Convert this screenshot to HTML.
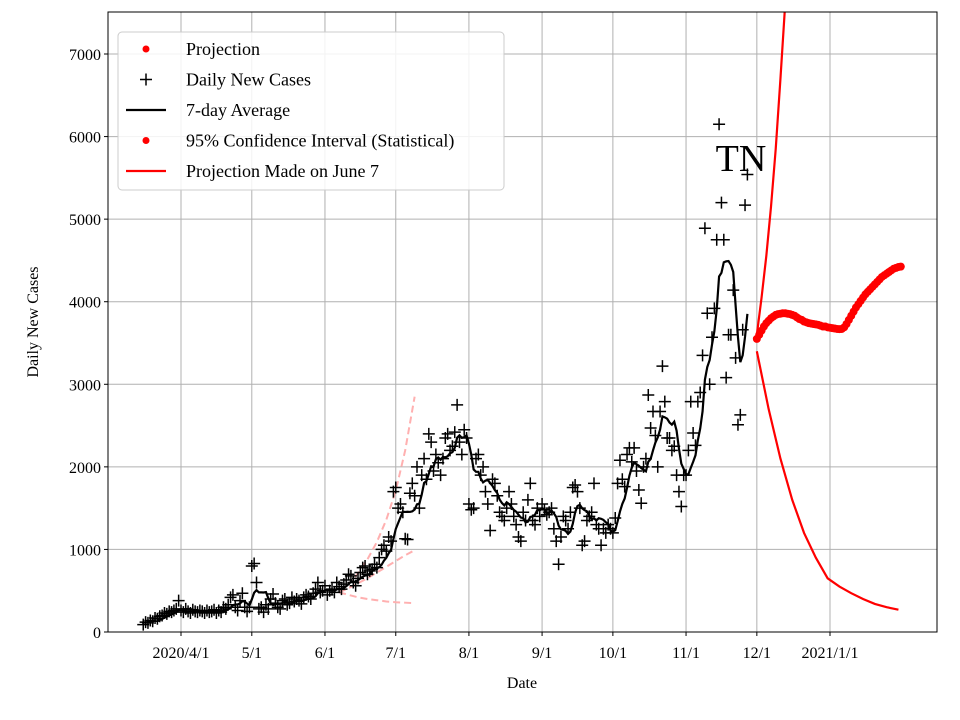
<!DOCTYPE html>
<html><head><meta charset="utf-8"><style>
html,body{margin:0;padding:0;background:#fff;}
svg{display:block;font-family:"Liberation Serif",serif;}
</style></head><body>
<svg id="chart" width="960" height="720" xmlns="http://www.w3.org/2000/svg"></svg>
<script>
const xTickDays=[31,61,92,122,153,184,214,245,275,306];
const xTickLabels=["2020/4/1","5/1","6/1","7/1","8/1","9/1","10/1","11/1","12/1","2021/1/1"];
const yTicks=[0,1000,2000,3000,4000,5000,6000,7000];
const casesStartDay=15;
const cases=[90,120,110,140,130,170,160,190,200,230,220,250,240,260,280,380,
260,240,280,250,230,270,250,240,260,250,230,260,240,250,270,230,260,240,300,280,330,420,450,300,260,380,470,300,250,300,
800,830,600,280,300,240,330,280,400,460,350,300,280,380,400,330,350,420,370,400,380,340,420,450,430,400,470,520,600,480,500,
560,450,500,520,480,600,550,520,580,630,700,680,600,560,650,720,780,800,700,740,760,820,780,900,1000,1050,980,1150,1100,1700,
1750,1500,1550,1450,1130,1120,1680,1800,1650,2000,1500,1900,2100,1850,2400,2300,1950,2150,2050,1900,2100,2350,2400,2200,2250,2420,2750,2300,2150,2450,2350,
1550,1480,1500,2100,2150,1900,2000,1700,1550,1230,1850,1800,1650,1450,1400,1350,1500,1700,1550,1400,1300,1150,1100,1450,1350,1600,1800,1350,1300,1500,1400,
1550,1480,1420,1450,1500,1250,1100,820,1150,1400,1350,1250,1450,1750,1780,1700,1500,1050,1100,1350,1400,1450,1800,1300,1250,1050,1250,1200,1300,1250,
1200,1380,1800,2080,1850,1760,2150,2230,2060,2230,1950,1720,1560,2000,2100,2870,2470,2670,2380,2000,2670,3220,2790,2350,2350,2200,2250,1900,1700,1520,1900,
1900,2200,2790,2410,2260,2790,2900,3350,4890,3860,3000,3570,3920,4750,6150,5200,4750,3080,3600,3600,4140,3320,2510,2630,3660,5170,5540];
const projStartDay=275;
const projection=[3550,3600,3650,3700,3740,3770,3800,3820,3840,3850,3855,3860,3860,3855,3850,
3840,3830,3810,3790,3780,3760,3750,3740,3735,3730,3725,3720,3710,3700,3700,3690,
3685,3680,3675,3670,3668,3670,3690,3730,3780,3830,
3880,3930,3970,4010,4050,4090,4120,4150,4180,4210,4240,4270,4300,4320,4340,4360,4380,4400,4410,4420,4425];
const upperStep=2;
const upperCI=[3600,4050,4550,5150,5850,6700,7600];
const lowerStep=5;
const lowerCI=[3400,2700,2100,1600,1200,900,650,550,470,400,340,300,270];
const juneStartDay=98, juneStep=4;
const juneUpper=[480,580,710,880,1090,1360,1710,2200,2850];
const juneMid=[480,530,590,650,720,790,860,930,990];
const juneLower=[480,450,420,400,385,370,360,355,350];

const L=108,R=937,T=12,B=632;
const xS=d=>181+(d-31)*2.36;
const yS=v=>632-v*0.082571;
const NS="http://www.w3.org/2000/svg";
const svg=document.getElementById('chart');
function mk(tag,attrs,parent){const e=document.createElementNS(NS,tag);for(const k in attrs)e.setAttribute(k,attrs[k]);(parent||svg).appendChild(e);return e;}
const defs=mk('defs',{});const cp=mk('clipPath',{id:'clip'},defs);mk('rect',{x:L,y:T,width:R-L,height:B-T},cp);

const grid=mk('g',{});


xTickDays.forEach(d=>mk('line',{x1:xS(d),x2:xS(d),y1:T,y2:B,stroke:'#b0b0b0','stroke-width':1},grid));
yTicks.forEach(v=>mk('line',{x1:L,x2:R,y1:yS(v),y2:yS(v),stroke:'#b0b0b0','stroke-width':1},grid));

const plot=mk('g',{'clip-path':'url(#clip)'});



[juneUpper,juneMid,juneLower].forEach((arr,i)=>{
  const p=mk('polyline',{points:arr.map((v,j)=>xS(juneStartDay+j*juneStep)+','+yS(v)).join(' '),fill:'none',stroke:'#ffb0b0','stroke-width':2,'stroke-dasharray':'7,4'},plot);
  
  
});

const cg=mk('g',{stroke:'#000','stroke-width':1.5},plot);


cases.forEach((v,i)=>{const x=xS(casesStartDay+i),y=yS(v);
  mk('path',{d:`M${x-6},${y}H${x+6}M${x},${y-6}V${y+6}`},cg);});

const avgPts=[];
for(let i=6;i<cases.length;i++){let s=0;for(let k=i-6;k<=i;k++)s+=cases[k];avgPts.push(xS(casesStartDay+i)+','+yS(s/7));}
const avg=mk('polyline',{points:avgPts.join(' '),fill:'none',stroke:'#000','stroke-width':2.2},plot);



const up=mk('polyline',{points:upperCI.map((v,j)=>xS(projStartDay+j*upperStep)+','+yS(v)).join(' '),fill:'none',stroke:'red','stroke-width':2.2},plot);


const lo=mk('polyline',{points:lowerCI.map((v,j)=>xS(projStartDay+j*lowerStep)+','+yS(v)).join(' '),fill:'none',stroke:'red','stroke-width':2.2},plot);



const pg=mk('g',{fill:'red'},plot);


projection.forEach((v,i)=>mk('circle',{cx:xS(projStartDay+i),cy:yS(v),r:4},pg));

const tn=mk('text',{x:741,y:171,'font-size':38,'text-anchor':'middle'});tn.textContent='TN';



const sp=mk('rect',{x:L,y:T,width:R-L,height:B-T,fill:'none',stroke:'#000','stroke-width':1});



const xa=mk('g',{'font-size':16,'text-anchor':'middle'});


xTickDays.forEach((d,i)=>{mk('line',{x1:xS(d),x2:xS(d),y1:B,y2:B+4,stroke:'#000'},xa);
  const t=mk('text',{x:xS(d),y:B+26},xa);t.textContent=xTickLabels[i];});
const ya=mk('g',{'font-size':16,'text-anchor':'end'});


yTicks.forEach(v=>{mk('line',{x1:L-4,x2:L,y1:yS(v),y2:yS(v),stroke:'#000'},ya);
  const t=mk('text',{x:L-7,y:yS(v)+6},ya);t.textContent=v;});
const xt=mk('text',{x:522,y:688,'font-size':16,'text-anchor':'middle'});xt.textContent='Date';


const yt=mk('text',{x:38,y:322,'font-size':16,'text-anchor':'middle',transform:'rotate(-90 38 322)'});yt.textContent='Daily New Cases';



const lg=mk('g',{'font-size':18});


mk('rect',{x:118,y:32,width:386,height:158,rx:4,fill:'#fff','fill-opacity':0.85,stroke:'#ccc'},lg);
const items=[['dot','Projection'],['plus','Daily New Cases'],['black','7-day Average'],['dot','95% Confidence Interval (Statistical)'],['red','Projection Made on June 7']];
items.forEach((it,i)=>{const y=49+i*30.5;
  const e=mk('g',{},lg);
  
  
  if(it[0]=='dot')mk('circle',{cx:146,cy:y,r:3.5,fill:'red'},e);
  else if(it[0]=='plus')mk('path',{d:`M140,${y}H152M146,${y-6}V${y+6}`,stroke:'#000','stroke-width':1.5},e);
  else mk('line',{x1:126,x2:166,y1:y,y2:y,stroke:it[0]=='black'?'#000':'red','stroke-width':2.2},e);
  const t=mk('text',{x:186,y:y+6},e);t.textContent=it[1];});
</script>
</body></html>
